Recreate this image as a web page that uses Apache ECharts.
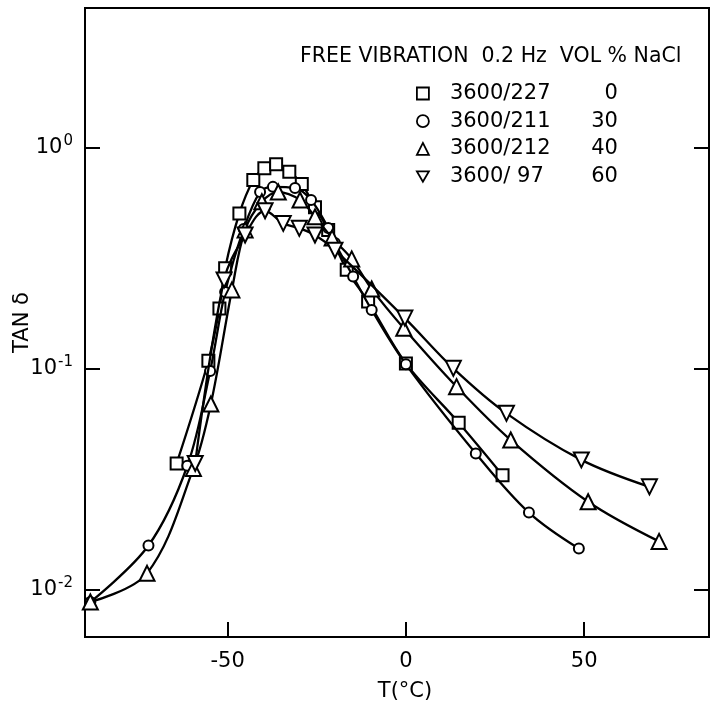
<!DOCTYPE html>
<html><head><meta charset="utf-8">
<script src="https://cdn.jsdelivr.net/npm/echarts@6/dist/echarts.min.js"></script>
<style>html,body{margin:0;padding:0;background:#fff}#c{width:711px;height:703px}</style>
</head><body><div id="c"></div>
<script>
// ---- data ----
const seriesNames = ['3600/227', '3600/211', '3600/212', '3600/ 97'];
const naclPct = ['0', '30', '40', '60'];
const xTickLabels = ['-50', '0', '50'];
const yTickExponents = [0, -1, -2];

const t227 = [-64.3, -55.4, -52.3, -50.7, -46.7, -42.8, -39.7, -36.4, -32.7, -29.2, -25.5, -21.8, -16.6, -10.6, 0, 14.8, 27.1];
const v227 = [0.0374, 0.109, 0.188, 0.286, 0.506, 0.717, 0.81, 0.844, 0.781, 0.687, 0.539, 0.426, 0.281, 0.202, 0.106, 0.0572, 0.0331];

const t211 = [-88.5, -72.2, -61.3, -54.9, -50.7, -45.5, -40.9, -37.3, -31.1, -26.6, -21.8, -19.9, -14.8, -9.6, 0, 19.6, 34.5, 48.5];
const v211 = [0.00883, 0.0159, 0.0365, 0.098, 0.223, 0.43, 0.632, 0.667, 0.659, 0.582, 0.435, 0.372, 0.262, 0.185, 0.105, 0.0415, 0.0224, 0.0154];

const t212 = [-88.5, -72.6, -59.6, -54.7, -48.8, -45.1, -40.4, -35.8, -29.7, -25.5, -20.7, -15.2, -9.6, -0.6, 14.2, 29.4, 51.1, 71];
const v212 = [0.00883, 0.0119, 0.0355, 0.0695, 0.228, 0.426, 0.571, 0.632, 0.582, 0.488, 0.392, 0.315, 0.23, 0.153, 0.0832, 0.0477, 0.0251, 0.0166];

const t97 = [-59.1, -51, -45.1, -39.5, -34.4, -29.9, -25.5, -19.9, -0.3, 13.3, 28.2, 49.2, 68.3];
const v97 = [0.0374, 0.253, 0.404, 0.52, 0.456, 0.433, 0.404, 0.345, 0.17, 0.1007, 0.063, 0.0388, 0.0293];

// ---- build ----
const FONT = 'DejaVu Sans';
const zip = (t, v) => t.map((x, i) => [x, v[i]]);
const seriesData = [zip(t227, v227), zip(t211, v211), zip(t212, v212), zip(t97, v97)];
const symbols = ['rect', 'circle', 'triangle', 'triangle'];
const rotations = [0, 0, 0, 180];
const sizes = [12, 10, 15, 15];
const legendIcons = ['rect', 'circle', 'triangle', 'path://M0,0L10,0L5,8.66Z'];

const pctOf = {};
seriesNames.forEach((n, i) => pctOf[n] = naclPct[i]);

function yLabel(v) {
  const l = Math.log10(v);
  const e = Math.round(l);
  if (Math.abs(l - e) > 1e-6 || yTickExponents.indexOf(e) < 0) return '';
  return '{b|10}{s|' + e + '}';
}
function xLabel(v) {
  const s = String(Math.round(v));
  return (Math.abs(v - Math.round(v)) < 1e-9 && xTickLabels.indexOf(s) >= 0) ? s : '';
}

const axisLineStyle = { color: '#000', width: 2 };
const yRich = {
  b: { fontSize: 21, fontFamily: FONT, color: '#000' },
  s: { fontSize: 15, fontFamily: FONT, color: '#000', padding: [0, 0, 14, 1] }
};

const chart = echarts.init(document.getElementById('c'), null, { renderer: 'canvas' });
chart.setOption({
  backgroundColor: '#fff',
  animation: false,
  title: {
    text: 'FREE VIBRATION  0.2 Hz  VOL % NaCl',
    left: 300, top: 46, padding: 0,
    textStyle: { fontFamily: FONT, fontSize: 20.5, fontWeight: 'normal', color: '#000' }
  },
  legend: {
    orient: 'vertical', left: 411, top: 78, itemGap: 6.7,
    itemWidth: 12, itemHeight: 12, selectedMode: false,
    data: seriesNames.map((n, i) => ({
      name: n, icon: legendIcons[i],
      itemStyle: { color: '#fff', borderColor: '#000', borderWidth: 1.8 }
    })),
    formatter: name => '{s| }{a|' + name + '}{b|' + pctOf[name] + '}',
    textStyle: {
      color: '#000', fontFamily: FONT, fontSize: 21, lineHeight: 20,
      rich: {
        s: { width: 16, lineHeight: 20 },
        a: { width: 142, fontSize: 21, fontFamily: FONT, lineHeight: 20 },
        b: { width: 26, align: 'right', fontSize: 21, fontFamily: FONT, lineHeight: 20 }
      }
    }
  },
  grid: { left: 85, right: 2, top: 8, bottom: 66, outerBoundsMode: 'none', containLabel: false,
          show: true, borderColor: '#000', borderWidth: 2, backgroundColor: 'transparent' },
  xAxis: {
    type: 'value', min: -90, max: 85, splitNumber: 3,
    axisLine: { show: true, onZero: false, lineStyle: axisLineStyle },
    axisTick: { show: true, inside: true, length: 15, lineStyle: axisLineStyle },
    axisLabel: { color: '#000', fontFamily: FONT, fontSize: 21, margin: 14, formatter: xLabel, showMinLabel: false, showMaxLabel: false },
    splitLine: { show: false },
    name: 'T(°C)', nameLocation: 'middle', nameGap: 44, nameMoveOverlap: false,
    nameTextStyle: { color: '#000', fontFamily: FONT, fontSize: 21, padding: [0, 0, 0, 16] }
  },
  yAxis: [{
    type: 'log', logBase: 10, min: 0.00613, max: 4.3, splitNumber: 3, position: 'left',
    axisLine: { show: true, onZero: false, lineStyle: axisLineStyle },
    axisTick: { show: true, inside: true, length: 15, lineStyle: axisLineStyle },
    axisLabel: { color: '#000', fontFamily: FONT, fontSize: 21, margin: 12, formatter: yLabel, rich: yRich, showMinLabel: false, showMaxLabel: false },
    splitLine: { show: false }, minorTick: { show: false },
    name: 'TAN δ', nameLocation: 'middle', nameGap: 52, nameRotate: 90, nameMoveOverlap: false,
    nameTextStyle: { color: '#000', fontFamily: FONT, fontSize: 21 }
  }, {
    type: 'log', logBase: 10, min: 0.00613, max: 4.3, splitNumber: 3, position: 'right',
    axisLine: { show: true, onZero: false, lineStyle: axisLineStyle },
    axisTick: { show: true, inside: true, length: 15, lineStyle: axisLineStyle },
    axisLabel: { show: false }, splitLine: { show: false }
  }],
  series: seriesNames.map((n, i) => ({
    name: n, type: 'line', data: seriesData[i], yAxisIndex: 0,
    smooth: 0.35, symbol: symbols[i], symbolRotate: rotations[i], symbolSize: sizes[i],
    showSymbol: true, showAllSymbol: true, clip: true,
    lineStyle: { color: '#000', width: 2.3 },
    itemStyle: { color: '#fff', borderColor: '#000', borderWidth: 2 },
    emphasis: { disabled: true }, z: 2 + i
  }))
});
</script>
</body></html>
